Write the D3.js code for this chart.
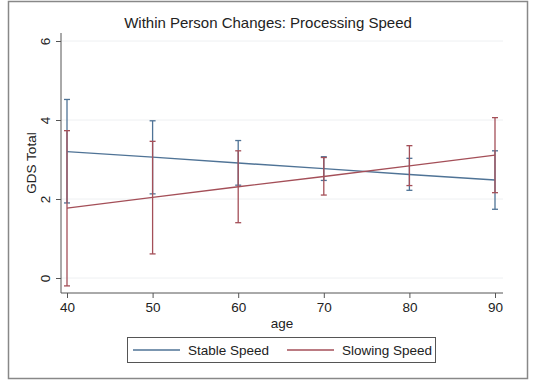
<!DOCTYPE html>
<html>
<head>
<meta charset="utf-8">
<script src="https://cdnjs.cloudflare.com/ajax/libs/d3/7.8.5/d3.min.js"></script>
<style>
  body { margin: 0; background: #fff; }
  text { font-family: "Liberation Sans", Arial, sans-serif; fill: #222; }
</style>
</head>
<body>
<div class="container"></div>
<script>
const width = 536, height = 384;

// data
const ages = [40, 50, 60, 70, 80, 90];
const stableMean = [3.20, 3.06, 2.91, 2.77, 2.62, 2.48];
const stableLo = [1.90, 2.13, 2.35, 2.47, 2.22, 1.74];
const stableHi = [4.52, 3.98, 3.48, 3.07, 3.03, 3.22];
const slowingMean = [1.77, 2.04, 2.31, 2.57, 2.84, 3.11];
const slowingLo = [-0.20, 0.61, 1.40, 2.10, 2.34, 2.16];
const slowingHi = [3.73, 3.46, 3.22, 3.05, 3.35, 4.06];
const xTicks = [40, 50, 60, 70, 80, 90];
const yTicks = [0, 2, 4, 6];

const series = [
  { name: "Stable Speed", color: "#4f7396", mean: stableMean, lo: stableLo, hi: stableHi },
  { name: "Slowing Speed", color: "#a44f58", mean: slowingMean, lo: slowingLo, hi: slowingHi }
];

const svg = d3.select(".container")
    .append("svg")
    .attr("width", width)
    .attr("height", height);

// outer frame
svg.append("rect")
    .attr("x", 8.5).attr("y", 1.5)
    .attr("width", 519).attr("height", 377)
    .attr("fill", "none").attr("stroke", "#888").attr("stroke-width", 1.5);

const x = d3.scaleLinear().domain([40, 90]).range([67, 495]);
const y = d3.scaleLinear().domain([0, 6]).range([278, 41]);
const plotLeft = 61, plotRight = 503, plotBottom = 293, plotTop = 33;

// gridlines
svg.append("g")
    .selectAll("line")
    .data(yTicks)
    .enter().append("line")
    .attr("x1", plotLeft).attr("x2", plotRight)
    .attr("y1", d => y(d)).attr("y2", d => y(d))
    .attr("stroke", "#eef0f2").attr("stroke-width", 1);

// axes
const xAxis = svg.append("g")
    .attr("transform", `translate(0,${plotBottom})`)
    .call(d3.axisBottom(x).tickValues(xTicks).tickFormat(d3.format("d")).tickSize(5).tickPadding(4));
xAxis.select(".domain").attr("d", `M${plotLeft},0H${plotRight}`).attr("stroke", "#555");
xAxis.selectAll(".tick line").attr("stroke", "#555");
xAxis.selectAll("text").attr("font-size", 13.5).attr("fill", "#222");

const yAxis = svg.append("g")
    .attr("transform", `translate(${plotLeft},0)`)
    .call(d3.axisLeft(y).tickValues(yTicks).tickFormat(d3.format("d")).tickSize(5).tickPadding(0));
yAxis.select(".domain").attr("d", `M0,${plotTop}V${plotBottom}`).attr("stroke", "#555");
yAxis.selectAll(".tick line").attr("stroke", "#555");
yAxis.selectAll(".tick text")
    .attr("font-size", 13.5).attr("fill", "#222")
    .attr("text-anchor", "middle")
    .attr("x", 0).attr("dy", 0)
    .attr("transform", "translate(-16,0) rotate(-90)")
    .attr("dominant-baseline", "central");

// title and axis labels
svg.append("text")
    .attr("x", 268).attr("y", 28)
    .attr("text-anchor", "middle").attr("font-size", 15)
    .text("Within Person Changes: Processing Speed");

svg.append("text")
    .attr("x", 282).attr("y", 328)
    .attr("text-anchor", "middle").attr("font-size", 13.5)
    .text("age");

svg.append("text")
    .attr("transform", `translate(36,${(plotTop + plotBottom) / 2}) rotate(-90)`)
    .attr("text-anchor", "middle").attr("font-size", 13.5)
    .text("GDS Total");

// error bars + lines
const line = d3.line().x(d => x(d.age)).y(d => y(d.v));
const capW = 3;

series.forEach(s => {
    const pts = ages.map((a, i) => ({ age: a, v: s.mean[i], lo: s.lo[i], hi: s.hi[i] }));
    const g = svg.append("g");
    g.selectAll("line.bar")
        .data(pts).enter().append("line")
        .attr("x1", d => x(d.age)).attr("x2", d => x(d.age))
        .attr("y1", d => y(d.lo)).attr("y2", d => y(d.hi))
        .attr("stroke", s.color).attr("stroke-width", 1.3);
    ["lo", "hi"].forEach(k => {
        g.selectAll("line.cap" + k)
            .data(pts).enter().append("line")
            .attr("x1", d => x(d.age) - capW).attr("x2", d => x(d.age) + capW)
            .attr("y1", d => y(d[k])).attr("y2", d => y(d[k]))
            .attr("stroke", s.color).attr("stroke-width", 1.3);
    });
    g.append("path")
        .datum(pts)
        .attr("d", line)
        .attr("fill", "none").attr("stroke", s.color).attr("stroke-width", 1.4);
});

// legend
const legend = svg.append("g");
legend.append("rect")
    .attr("x", 127.5).attr("y", 337.5).attr("width", 308).attr("height", 25)
    .attr("fill", "#fff").attr("stroke", "#555").attr("stroke-width", 1);
const legX = [133, 287];
series.forEach((s, i) => {
    legend.append("line")
        .attr("x1", legX[i]).attr("x2", legX[i] + 47)
        .attr("y1", 350).attr("y2", 350)
        .attr("stroke", s.color).attr("stroke-width", 1.4);
    legend.append("text")
        .attr("x", legX[i] + 55).attr("y", 354.5)
        .attr("font-size", 13.5)
        .text(s.name);
});
</script>
</body>
</html>
